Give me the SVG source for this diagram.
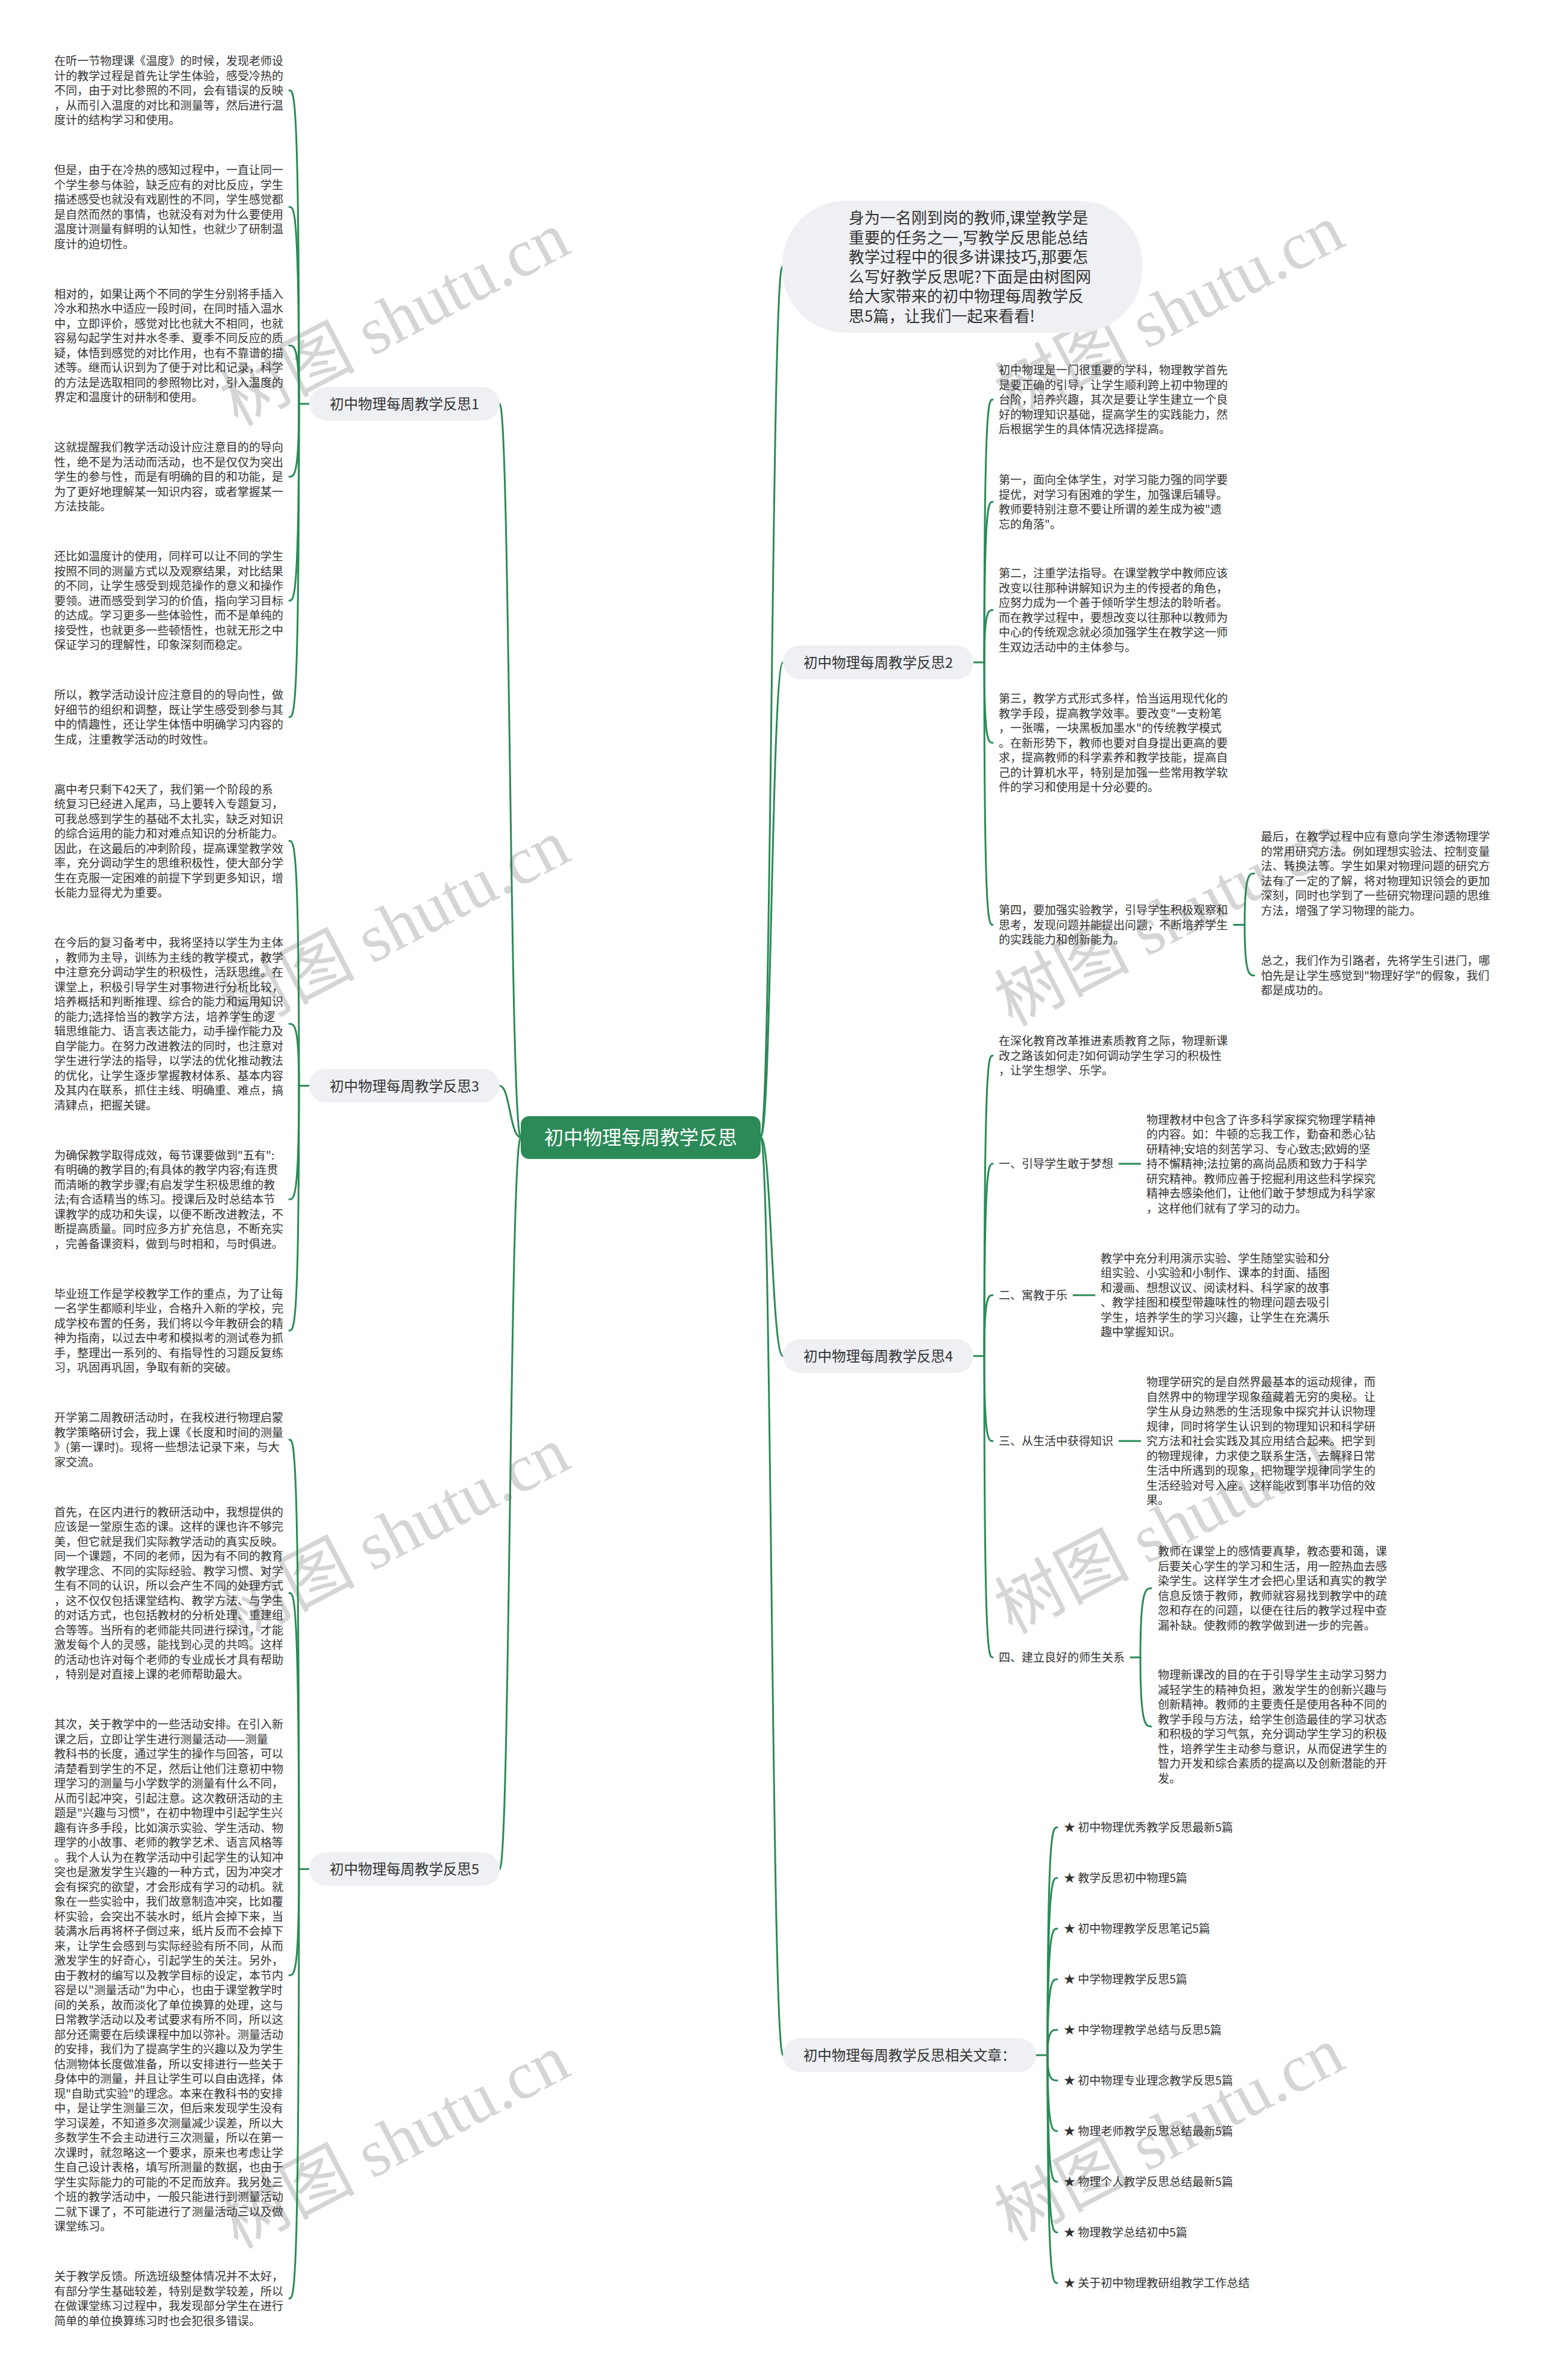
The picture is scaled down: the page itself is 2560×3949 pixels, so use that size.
<svg xmlns="http://www.w3.org/2000/svg" width="2560" height="3949" viewBox="0 0 2560 3949">
<style>
.t{font-family:"Noto Sans CJK SC","Liberation Sans",sans-serif;font-size:19px;fill:#333}
.lb{font-family:"Noto Sans CJK SC","Liberation Sans",sans-serif;font-size:23.5px;fill:#333;text-anchor:middle}
.bt{font-family:"Noto Sans CJK SC","Liberation Sans",sans-serif;font-size:26px;fill:#333}
.ct{font-family:"Noto Sans CJK SC","Liberation Sans",sans-serif;font-size:32px;fill:#fff;text-anchor:middle}
.pill{fill:#eef0f3}
.ln{fill:none;stroke:#2b8a57;stroke-width:3;stroke-linecap:round}
.wm{font-family:"Liberation Serif","Noto Sans CJK SC",serif;font-size:112px;fill:#c4c4c4;opacity:0.7;text-anchor:middle;dominant-baseline:central}
</style>
<rect width="2560" height="3949" fill="#fff"/>
<g id="watermark">
<text class="wm" x="655" y="529" transform="rotate(-27.5 655 529)">树图 shutu.cn</text>
<text class="wm" x="1940" y="517" transform="rotate(-27.5 1940 517)">树图 shutu.cn</text>
<text class="wm" x="655" y="1537" transform="rotate(-27.5 655 1537)">树图 shutu.cn</text>
<text class="wm" x="1940" y="1525" transform="rotate(-27.5 1940 1525)">树图 shutu.cn</text>
<text class="wm" x="655" y="2545" transform="rotate(-27.5 655 2545)">树图 shutu.cn</text>
<text class="wm" x="1940" y="2533" transform="rotate(-27.5 1940 2533)">树图 shutu.cn</text>
<text class="wm" x="655" y="3553" transform="rotate(-27.5 655 3553)">树图 shutu.cn</text>
<text class="wm" x="1940" y="3541" transform="rotate(-27.5 1940 3541)">树图 shutu.cn</text>
</g>
<g id="connectors">
<path class="ln" d="M864 1887 C846 1887 846 670 829 670"/>
<path class="ln" d="M864 1887 C846 1887 846 1801.5 829 1801.5"/>
<path class="ln" d="M864 1887 C846 1887 846 3101.25 829 3101.25"/>
<path class="ln" d="M1262 1887 C1280 1887 1280 442.5 1298 442.5"/>
<path class="ln" d="M1262 1887 C1280 1887 1280 1099 1299 1099"/>
<path class="ln" d="M1262 1887 C1280 1887 1280 2250 1299 2250"/>
<path class="ln" d="M1262 1887 C1280 1887 1280 3410 1299 3410"/>
<path class="ln" d="M513 670 H496"/>
<path class="ln" d="M496 670 C496 150 488 150 480 150"/>
<path class="ln" d="M496 670 C496 343.25 488 343.25 480 343.25"/>
<path class="ln" d="M496 670 C496 573.25 488 573.25 480 573.25"/>
<path class="ln" d="M496 670 C496 791 488 791 480 791"/>
<path class="ln" d="M496 670 C496 996.5 488 996.5 480 996.5"/>
<path class="ln" d="M496 670 C496 1189.75 488 1189.75 480 1189.75"/>
<path class="ln" d="M513 1801.5 H496"/>
<path class="ln" d="M496 1801.5 C496 1395.25 488 1395.25 480 1395.25"/>
<path class="ln" d="M496 1801.5 C496 1698.75 488 1698.75 480 1698.75"/>
<path class="ln" d="M496 1801.5 C496 1990 488 1990 480 1990"/>
<path class="ln" d="M496 1801.5 C496 2207.75 488 2207.75 480 2207.75"/>
<path class="ln" d="M513 3101.25 H496"/>
<path class="ln" d="M496 3101.25 C496 2388.75 488 2388.75 480 2388.75"/>
<path class="ln" d="M496 3101.25 C496 2643.25 488 2643.25 480 2643.25"/>
<path class="ln" d="M496 3101.25 C496 3277.5 488 3277.5 480 3277.5"/>
<path class="ln" d="M496 3101.25 C496 3813.75 488 3813.75 480 3813.75"/>
<path class="ln" d="M1615 1099 H1633"/>
<path class="ln" d="M1633 1099 C1633 663 1640 663 1647 663"/>
<path class="ln" d="M1633 1099 C1633 832.75 1640 832.75 1647 832.75"/>
<path class="ln" d="M1633 1099 C1633 1012.25 1640 1012.25 1647 1012.25"/>
<path class="ln" d="M1633 1099 C1633 1232.5 1640 1232.5 1647 1232.5"/>
<path class="ln" d="M1633 1099 C1633 1534.5 1640 1534.5 1647 1534.5"/>
<path class="ln" d="M2047 1534.5 H2065"/>
<path class="ln" d="M2065 1534.5 C2065 1449.25 2073 1449.25 2081 1449.25"/>
<path class="ln" d="M2065 1534.5 C2065 1618.5 2073 1618.5 2081 1618.5"/>
<path class="ln" d="M1615 2250 H1633"/>
<path class="ln" d="M1633 2250 C1633 1751.5 1640 1751.5 1647 1751.5"/>
<path class="ln" d="M1633 2250 C1633 1931 1640 1931 1647 1931"/>
<path class="ln" d="M1633 2250 C1633 2149 1640 2149 1647 2149"/>
<path class="ln" d="M1633 2250 C1633 2391 1640 2391 1647 2391"/>
<path class="ln" d="M1633 2250 C1633 2750 1640 2750 1647 2750"/>
<path class="ln" d="M1857 1931 H1892"/>
<path class="ln" d="M1781 2149 H1816"/>
<path class="ln" d="M1857 2391 H1892"/>
<path class="ln" d="M1876 2750 H1892"/>
<path class="ln" d="M1892 2750 C1892 2635.25 1901 2635.25 1910 2635.25"/>
<path class="ln" d="M1892 2750 C1892 2864.75 1901 2864.75 1910 2864.75"/>
<path class="ln" d="M1719 3410 H1738"/>
<path class="ln" d="M1738 3410 C1738 3032 1746 3032 1754 3032"/>
<path class="ln" d="M1738 3410 C1738 3116 1746 3116 1754 3116"/>
<path class="ln" d="M1738 3410 C1738 3200 1746 3200 1754 3200"/>
<path class="ln" d="M1738 3410 C1738 3284 1746 3284 1754 3284"/>
<path class="ln" d="M1738 3410 C1738 3368 1746 3368 1754 3368"/>
<path class="ln" d="M1738 3410 C1738 3452 1746 3452 1754 3452"/>
<path class="ln" d="M1738 3410 C1738 3536 1746 3536 1754 3536"/>
<path class="ln" d="M1738 3410 C1738 3620 1746 3620 1754 3620"/>
<path class="ln" d="M1738 3410 C1738 3704 1746 3704 1754 3704"/>
<path class="ln" d="M1738 3410 C1738 3788 1746 3788 1754 3788"/>
</g>
<g id="center">
<rect x="864" y="1852" width="398" height="71" rx="14" fill="#2b8a57"/>
<text class="ct" x="1063" y="1899">初中物理每周教学反思</text>
</g>
<g id="intro">
<rect class="pill" x="1298" y="333" width="597" height="219" rx="105"/>
<text class="bt" x="1408" y="371"><tspan x="1408">身为一名刚到岗的教师,课堂教学是</tspan><tspan x="1408" dy="32.5">重要的任务之一,写教学反思能总结</tspan><tspan x="1408" dy="32.5">教学过程中的很多讲课技巧,那要怎</tspan><tspan x="1408" dy="32.5">么写好教学反思呢?下面是由树图网</tspan><tspan x="1408" dy="32.5">给大家带来的初中物理每周教学反</tspan><tspan x="1408" dy="32.5">思5篇，让我们一起来看看!</tspan></text>
</g>
<g id="L1">
<rect class="pill" x="513" y="642" width="316" height="56" rx="28"/>
<text class="lb" x="671" y="679">初中物理每周教学反思1</text>
</g>
<g id="L3">
<rect class="pill" x="513" y="1773.5" width="316" height="56" rx="28"/>
<text class="lb" x="671" y="1810.5">初中物理每周教学反思3</text>
</g>
<g id="L5">
<rect class="pill" x="513" y="3073.25" width="316" height="56" rx="28"/>
<text class="lb" x="671" y="3110.25">初中物理每周教学反思5</text>
</g>
<g id="R2">
<rect class="pill" x="1299" y="1071" width="316" height="56" rx="28"/>
<text class="lb" x="1457" y="1108">初中物理每周教学反思2</text>
</g>
<g id="R4">
<rect class="pill" x="1299" y="2222" width="316" height="56" rx="28"/>
<text class="lb" x="1457" y="2259">初中物理每周教学反思4</text>
</g>
<g id="REL">
<rect class="pill" x="1299" y="3382" width="420" height="56" rx="28"/>
<text class="lb" x="1509" y="3419">初中物理每周教学反思相关文章：</text>
</g>
<g id="b1-1"><text class="t" x="90" y="108"><tspan x="90">在听一节物理课《温度》的时候，发现老师设</tspan><tspan x="90" dy="24.5">计的教学过程是首先让学生体验，感受冷热的</tspan><tspan x="90" dy="24.5">不同，由于对比参照的不同，会有错误的反映</tspan><tspan x="90" dy="24.5">，从而引入温度的对比和测量等，然后进行温</tspan><tspan x="90" dy="24.5">度计的结构学习和使用。</tspan></text></g>
<g id="b1-2"><text class="t" x="90" y="289"><tspan x="90">但是，由于在冷热的感知过程中，一直让同一</tspan><tspan x="90" dy="24.5">个学生参与体验，缺乏应有的对比反应，学生</tspan><tspan x="90" dy="24.5">描述感受也就没有戏剧性的不同，学生感觉都</tspan><tspan x="90" dy="24.5">是自然而然的事情，也就没有对为什么要使用</tspan><tspan x="90" dy="24.5">温度计测量有鲜明的认知性，也就少了研制温</tspan><tspan x="90" dy="24.5">度计的迫切性。</tspan></text></g>
<g id="b1-3"><text class="t" x="90" y="494.5"><tspan x="90">相对的，如果让两个不同的学生分别将手插入</tspan><tspan x="90" dy="24.5">冷水和热水中适应一段时间，在同时插入温水</tspan><tspan x="90" dy="24.5">中，立即评价，感觉对比也就大不相同，也就</tspan><tspan x="90" dy="24.5">容易勾起学生对井水冬季、夏季不同反应的质</tspan><tspan x="90" dy="24.5">疑，体悟到感觉的对比作用，也有不靠谱的描</tspan><tspan x="90" dy="24.5">述等。继而认识到为了便于对比和记录，科学</tspan><tspan x="90" dy="24.5">的方法是选取相同的参照物比对，引入温度的</tspan><tspan x="90" dy="24.5">界定和温度计的研制和使用。</tspan></text></g>
<g id="b1-4"><text class="t" x="90" y="749"><tspan x="90">这就提醒我们教学活动设计应注意目的的导向</tspan><tspan x="90" dy="24.5">性，绝不是为活动而活动，也不是仅仅为突出</tspan><tspan x="90" dy="24.5">学生的参与性，而是有明确的目的和功能，是</tspan><tspan x="90" dy="24.5">为了更好地理解某一知识内容，或者掌握某一</tspan><tspan x="90" dy="24.5">方法技能。</tspan></text></g>
<g id="b1-5"><text class="t" x="90" y="930"><tspan x="90">还比如温度计的使用，同样可以让不同的学生</tspan><tspan x="90" dy="24.5">按照不同的测量方式以及观察结果，对比结果</tspan><tspan x="90" dy="24.5">的不同，让学生感受到规范操作的意义和操作</tspan><tspan x="90" dy="24.5">要领。进而感受到学习的价值，指向学习目标</tspan><tspan x="90" dy="24.5">的达成。学习更多一些体验性，而不是单纯的</tspan><tspan x="90" dy="24.5">接受性，也就更多一些顿悟性，也就无形之中</tspan><tspan x="90" dy="24.5">保证学习的理解性，印象深刻而稳定。</tspan></text></g>
<g id="b1-6"><text class="t" x="90" y="1160"><tspan x="90">所以，教学活动设计应注意目的的导向性，做</tspan><tspan x="90" dy="24.5">好细节的组织和调整，既让学生感受到参与其</tspan><tspan x="90" dy="24.5">中的情趣性，还让学生体悟中明确学习内容的</tspan><tspan x="90" dy="24.5">生成，注重教学活动的时效性。</tspan></text></g>
<g id="b3-1"><text class="t" x="90" y="1316.5"><tspan x="90">离中考只剩下42天了，我们第一个阶段的系</tspan><tspan x="90" dy="24.5">统复习已经进入尾声，马上要转入专题复习，</tspan><tspan x="90" dy="24.5">可我总感到学生的基础不太扎实，缺乏对知识</tspan><tspan x="90" dy="24.5">的综合运用的能力和对难点知识的分析能力。</tspan><tspan x="90" dy="24.5">因此，在这最后的冲刺阶段，提高课堂教学效</tspan><tspan x="90" dy="24.5">率，充分调动学生的思维积极性，使大部分学</tspan><tspan x="90" dy="24.5">生在克服一定困难的前提下学到更多知识，增</tspan><tspan x="90" dy="24.5">长能力显得尤为重要。</tspan></text></g>
<g id="b3-2"><text class="t" x="90" y="1571"><tspan x="90">在今后的复习备考中，我将坚持以学生为主体</tspan><tspan x="90" dy="24.5">，教师为主导，训练为主线的教学模式，教学</tspan><tspan x="90" dy="24.5">中注意充分调动学生的积极性，活跃思维。在</tspan><tspan x="90" dy="24.5">课堂上，积极引导学生对事物进行分析比较，</tspan><tspan x="90" dy="24.5">培养概括和判断推理、综合的能力和运用知识</tspan><tspan x="90" dy="24.5">的能力;选择恰当的教学方法，培养学生的逻</tspan><tspan x="90" dy="24.5">辑思维能力、语言表达能力，动手操作能力及</tspan><tspan x="90" dy="24.5">自学能力。在努力改进教法的同时，也注意对</tspan><tspan x="90" dy="24.5">学生进行学法的指导，以学法的优化推动教法</tspan><tspan x="90" dy="24.5">的优化，让学生逐步掌握教材体系、基本内容</tspan><tspan x="90" dy="24.5">及其内在联系，抓住主线、明确重、难点，搞</tspan><tspan x="90" dy="24.5">清肄点，把握关键。</tspan></text></g>
<g id="b3-3"><text class="t" x="90" y="1923.5"><tspan x="90">为确保教学取得成效，每节课要做到"五有":</tspan><tspan x="90" dy="24.5">有明确的教学目的;有具体的教学内容;有连贯</tspan><tspan x="90" dy="24.5">而清晰的教学步骤;有启发学生积极思维的教</tspan><tspan x="90" dy="24.5">法;有合适精当的练习。授课后及时总结本节</tspan><tspan x="90" dy="24.5">课教学的成功和失误，以便不断改进教法，不</tspan><tspan x="90" dy="24.5">断提高质量。同时应多方扩充信息，不断充实</tspan><tspan x="90" dy="24.5">，完善备课资料，做到与时相和，与时俱进。</tspan></text></g>
<g id="b3-4"><text class="t" x="90" y="2153.5"><tspan x="90">毕业班工作是学校教学工作的重点，为了让每</tspan><tspan x="90" dy="24.5">一名学生都顺利毕业，合格升入新的学校，完</tspan><tspan x="90" dy="24.5">成学校布置的任务，我们将以今年教研会的精</tspan><tspan x="90" dy="24.5">神为指南，以过去中考和模拟考的测试卷为抓</tspan><tspan x="90" dy="24.5">手，整理出一系列的、有指导性的习题反复练</tspan><tspan x="90" dy="24.5">习，巩固再巩固，争取有新的突破。</tspan></text></g>
<g id="b5-1"><text class="t" x="90" y="2359"><tspan x="90">开学第二周教研活动时，在我校进行物理启蒙</tspan><tspan x="90" dy="24.5">教学策略研讨会，我上课《长度和时间的测量</tspan><tspan x="90" dy="24.5">》(第一课时)。现将一些想法记录下来，与大</tspan><tspan x="90" dy="24.5">家交流。</tspan></text></g>
<g id="b5-2"><text class="t" x="90" y="2515.5"><tspan x="90">首先，在区内进行的教研活动中，我想提供的</tspan><tspan x="90" dy="24.5">应该是一堂原生态的课。这样的课也许不够完</tspan><tspan x="90" dy="24.5">美，但它就是我们实际教学活动的真实反映。</tspan><tspan x="90" dy="24.5">同一个课题，不同的老师，因为有不同的教育</tspan><tspan x="90" dy="24.5">教学理念、不同的实际经验、教学习惯、对学</tspan><tspan x="90" dy="24.5">生有不同的认识，所以会产生不同的处理方式</tspan><tspan x="90" dy="24.5">，这不仅仅包括课堂结构、教学方法、与学生</tspan><tspan x="90" dy="24.5">的对话方式，也包括教材的分析处理、重建组</tspan><tspan x="90" dy="24.5">合等等。当所有的老师能共同进行探讨，才能</tspan><tspan x="90" dy="24.5">激发每个人的灵感，能找到心灵的共鸣。这样</tspan><tspan x="90" dy="24.5">的活动也许对每个老师的专业成长才具有帮助</tspan><tspan x="90" dy="24.5">，特别是对直接上课的老师帮助最大。</tspan></text></g>
<g id="b5-3"><text class="t" x="90" y="2868"><tspan x="90">其次，关于教学中的一些活动安排。在引入新</tspan><tspan x="90" dy="24.5">课之后，立即让学生进行测量活动——测量</tspan><tspan x="90" dy="24.5">教科书的长度，通过学生的操作与回答，可以</tspan><tspan x="90" dy="24.5">清楚看到学生的不足，然后让他们注意初中物</tspan><tspan x="90" dy="24.5">理学习的测量与小学数学的测量有什么不同，</tspan><tspan x="90" dy="24.5">从而引起冲突，引起注意。这次教研活动的主</tspan><tspan x="90" dy="24.5">题是"兴趣与习惯"，在初中物理中引起学生兴</tspan><tspan x="90" dy="24.5">趣有许多手段，比如演示实验、学生活动、物</tspan><tspan x="90" dy="24.5">理学的小故事、老师的教学艺术、语言风格等</tspan><tspan x="90" dy="24.5">。我个人认为在教学活动中引起学生的认知冲</tspan><tspan x="90" dy="24.5">突也是激发学生兴趣的一种方式，因为冲突才</tspan><tspan x="90" dy="24.5">会有探究的欲望，才会形成有学习的动机。就</tspan><tspan x="90" dy="24.5">象在一些实验中，我们故意制造冲突，比如覆</tspan><tspan x="90" dy="24.5">杯实验，会突出不装水时，纸片会掉下来，当</tspan><tspan x="90" dy="24.5">装满水后再将杯子倒过来，纸片反而不会掉下</tspan><tspan x="90" dy="24.5">来，让学生会感到与实际经验有所不同，从而</tspan><tspan x="90" dy="24.5">激发学生的好奇心，引起学生的关注。另外，</tspan><tspan x="90" dy="24.5">由于教材的编写以及教学目标的设定，本节内</tspan><tspan x="90" dy="24.5">容是以"测量活动"为中心，也由于课堂教学时</tspan><tspan x="90" dy="24.5">间的关系，故而淡化了单位换算的处理，这与</tspan><tspan x="90" dy="24.5">日常教学活动以及考试要求有所不同，所以这</tspan><tspan x="90" dy="24.5">部分还需要在后续课程中加以弥补。测量活动</tspan><tspan x="90" dy="24.5">的安排，我们为了提高学生的兴趣以及为学生</tspan><tspan x="90" dy="24.5">估测物体长度做准备，所以安排进行一些关于</tspan><tspan x="90" dy="24.5">身体中的测量，并且让学生可以自由选择，体</tspan><tspan x="90" dy="24.5">现"自助式实验"的理念。本来在教科书的安排</tspan><tspan x="90" dy="24.5">中，是让学生测量三次，但后来发现学生没有</tspan><tspan x="90" dy="24.5">学习误差，不知道多次测量减少误差，所以大</tspan><tspan x="90" dy="24.5">多数学生不会主动进行三次测量，所以在第一</tspan><tspan x="90" dy="24.5">次课时，就忽略这一个要求，原来也考虑让学</tspan><tspan x="90" dy="24.5">生自己设计表格，填写所测量的数据，也由于</tspan><tspan x="90" dy="24.5">学生实际能力的可能的不足而放弃。我另处三</tspan><tspan x="90" dy="24.5">个班的教学活动中，一般只能进行到测量活动</tspan><tspan x="90" dy="24.5">二就下课了，不可能进行了测量活动三以及做</tspan><tspan x="90" dy="24.5">课堂练习。</tspan></text></g>
<g id="b5-4"><text class="t" x="90" y="3784"><tspan x="90">关于教学反馈。所选班级整体情况并不太好，</tspan><tspan x="90" dy="24.5">有部分学生基础较差，特别是数学较差，所以</tspan><tspan x="90" dy="24.5">在做课堂练习过程中，我发现部分学生在进行</tspan><tspan x="90" dy="24.5">简单的单位换算练习时也会犯很多错误。</tspan></text></g>
<g id="c1"><text class="t" x="1657" y="621"><tspan x="1657">初中物理是一门很重要的学科，物理教学首先</tspan><tspan x="1657" dy="24.5">是要正确的引导，让学生顺利跨上初中物理的</tspan><tspan x="1657" dy="24.5">台阶，培养兴趣，其次是要让学生建立一个良</tspan><tspan x="1657" dy="24.5">好的物理知识基础，提高学生的实践能力，然</tspan><tspan x="1657" dy="24.5">后根据学生的具体情况选择提高。</tspan></text></g>
<g id="c2"><text class="t" x="1657" y="803"><tspan x="1657">第一，面向全体学生，对学习能力强的同学要</tspan><tspan x="1657" dy="24.5">提优，对学习有困难的学生，加强课后辅导。</tspan><tspan x="1657" dy="24.5">教师要特别注意不要让所谓的差生成为被"遗</tspan><tspan x="1657" dy="24.5">忘的角落"。</tspan></text></g>
<g id="c3"><text class="t" x="1657" y="958"><tspan x="1657">第二，注重学法指导。在课堂教学中教师应该</tspan><tspan x="1657" dy="24.5">改变以往那种讲解知识为主的传授者的角色，</tspan><tspan x="1657" dy="24.5">应努力成为一个善于倾听学生想法的聆听者。</tspan><tspan x="1657" dy="24.5">而在教学过程中，要想改变以往那种以教师为</tspan><tspan x="1657" dy="24.5">中心的传统观念就必须加强学生在教学这一师</tspan><tspan x="1657" dy="24.5">生双边活动中的主体参与。</tspan></text></g>
<g id="c4"><text class="t" x="1657" y="1166"><tspan x="1657">第三，教学方式形式多样，恰当运用现代化的</tspan><tspan x="1657" dy="24.5">教学手段，提高教学效率。要改变"一支粉笔</tspan><tspan x="1657" dy="24.5">，一张嘴，一块黑板加墨水"的传统教学模式</tspan><tspan x="1657" dy="24.5">。在新形势下，教师也要对自身提出更高的要</tspan><tspan x="1657" dy="24.5">求，提高教师的科学素养和教学技能，提高自</tspan><tspan x="1657" dy="24.5">己的计算机水平，特别是加强一些常用教学软</tspan><tspan x="1657" dy="24.5">件的学习和使用是十分必要的。</tspan></text></g>
<g id="c5"><text class="t" x="1657" y="1517"><tspan x="1657">第四，要加强实验教学，引导学生积极观察和</tspan><tspan x="1657" dy="24.5">思考，发现问题并能提出问题，不断培养学生</tspan><tspan x="1657" dy="24.5">的实践能力和创新能力。</tspan></text></g>
<g id="d1"><text class="t" x="2092" y="1395"><tspan x="2092">最后，在教学过程中应有意向学生渗透物理学</tspan><tspan x="2092" dy="24.5">的常用研究方法。例如理想实验法、控制变量</tspan><tspan x="2092" dy="24.5">法、转换法等。学生如果对物理问题的研究方</tspan><tspan x="2092" dy="24.5">法有了一定的了解，将对物理知识领会的更加</tspan><tspan x="2092" dy="24.5">深刻，同时也学到了一些研究物理问题的思维</tspan><tspan x="2092" dy="24.5">方法，增强了学习物理的能力。</tspan></text></g>
<g id="d2"><text class="t" x="2092" y="1601"><tspan x="2092">总之，我们作为引路者，先将学生引进门，哪</tspan><tspan x="2092" dy="24.5">怕先是让学生感觉到"物理好学"的假象，我们</tspan><tspan x="2092" dy="24.5">都是成功的。</tspan></text></g>
<g id="e0"><text class="t" x="1657" y="1734"><tspan x="1657">在深化教育改革推进素质教育之际，物理新课</tspan><tspan x="1657" dy="24.5">改之路该如何走?如何调动学生学习的积极性</tspan><tspan x="1657" dy="24.5">，让学生想学、乐学。</tspan></text></g>
<g id="e1"><text class="t" x="1657" y="1938">一、引导学生敢于梦想</text></g>
<g id="f1"><text class="t" x="1902" y="1864.5"><tspan x="1902">物理教材中包含了许多科学家探究物理学精神</tspan><tspan x="1902" dy="24.5">的内容。如：牛顿的忘我工作，勤奋和悉心钻</tspan><tspan x="1902" dy="24.5">研精神;安培的刻苦学习、专心致志;欧姆的坚</tspan><tspan x="1902" dy="24.5">持不懈精神;法拉第的高尚品质和致力于科学</tspan><tspan x="1902" dy="24.5">研究精神。教师应善于挖掘利用这些科学探究</tspan><tspan x="1902" dy="24.5">精神去感染他们，让他们敢于梦想成为科学家</tspan><tspan x="1902" dy="24.5">，这样他们就有了学习的动力。</tspan></text></g>
<g id="e2"><text class="t" x="1657" y="2156">二、寓教于乐</text></g>
<g id="f2"><text class="t" x="1826" y="2094.75"><tspan x="1826">教学中充分利用演示实验、学生随堂实验和分</tspan><tspan x="1826" dy="24.5">组实验、小实验和小制作、课本的封面、插图</tspan><tspan x="1826" dy="24.5">和漫画、想想议议、阅读材料、科学家的故事</tspan><tspan x="1826" dy="24.5">、教学挂图和模型带趣味性的物理问题去吸引</tspan><tspan x="1826" dy="24.5">学生，培养学生的学习兴趣，让学生在充满乐</tspan><tspan x="1826" dy="24.5">趣中掌握知识。</tspan></text></g>
<g id="e3"><text class="t" x="1657" y="2398">三、从生活中获得知识</text></g>
<g id="f3"><text class="t" x="1902" y="2300"><tspan x="1902">物理学研究的是自然界最基本的运动规律，而</tspan><tspan x="1902" dy="24.5">自然界中的物理学现象蕴藏着无穷的奥秘。让</tspan><tspan x="1902" dy="24.5">学生从身边熟悉的生活现象中探究并认识物理</tspan><tspan x="1902" dy="24.5">规律，同时将学生认识到的物理知识和科学研</tspan><tspan x="1902" dy="24.5">究方法和社会实践及其应用结合起来。把学到</tspan><tspan x="1902" dy="24.5">的物理规律，力求使之联系生活，去解释日常</tspan><tspan x="1902" dy="24.5">生活中所遇到的现象，把物理学规律同学生的</tspan><tspan x="1902" dy="24.5">生活经验对号入座。这样能收到事半功倍的效</tspan><tspan x="1902" dy="24.5">果。</tspan></text></g>
<g id="e4"><text class="t" x="1657" y="2757">四、建立良好的师生关系</text></g>
<g id="g1"><text class="t" x="1921" y="2581"><tspan x="1921">教师在课堂上的感情要真挚，教态要和蔼，课</tspan><tspan x="1921" dy="24.5">后要关心学生的学习和生活，用一腔热血去感</tspan><tspan x="1921" dy="24.5">染学生。这样学生才会把心里话和真实的教学</tspan><tspan x="1921" dy="24.5">信息反馈于教师，教师就容易找到教学中的疏</tspan><tspan x="1921" dy="24.5">忽和存在的问题，以便在往后的教学过程中查</tspan><tspan x="1921" dy="24.5">漏补缺。使教师的教学做到进一步的完善。</tspan></text></g>
<g id="g2"><text class="t" x="1921" y="2786"><tspan x="1921">物理新课改的目的在于引导学生主动学习努力</tspan><tspan x="1921" dy="24.5">减轻学生的精神负担，激发学生的创新兴趣与</tspan><tspan x="1921" dy="24.5">创新精神。教师的主要责任是使用各种不同的</tspan><tspan x="1921" dy="24.5">教学手段与方法，给学生创造最佳的学习状态</tspan><tspan x="1921" dy="24.5">和积极的学习气氛，充分调动学生学习的积极</tspan><tspan x="1921" dy="24.5">性，培养学生主动参与意识，从而促进学生的</tspan><tspan x="1921" dy="24.5">智力开发和综合素质的提高以及创新潜能的开</tspan><tspan x="1921" dy="24.5">发。</tspan></text></g>
<g id="rel-items">
<text class="t" x="1765" y="3039">★ 初中物理优秀教学反思最新5篇</text>
<text class="t" x="1765" y="3123">★ 教学反思初中物理5篇</text>
<text class="t" x="1765" y="3207">★ 初中物理教学反思笔记5篇</text>
<text class="t" x="1765" y="3291">★ 中学物理教学反思5篇</text>
<text class="t" x="1765" y="3375">★ 中学物理教学总结与反思5篇</text>
<text class="t" x="1765" y="3459">★ 初中物理专业理念教学反思5篇</text>
<text class="t" x="1765" y="3543">★ 物理老师教学反思总结最新5篇</text>
<text class="t" x="1765" y="3627">★ 物理个人教学反思总结最新5篇</text>
<text class="t" x="1765" y="3711">★ 物理教学总结初中5篇</text>
<text class="t" x="1765" y="3795">★ 关于初中物理教研组教学工作总结</text>
</g>
</svg>
